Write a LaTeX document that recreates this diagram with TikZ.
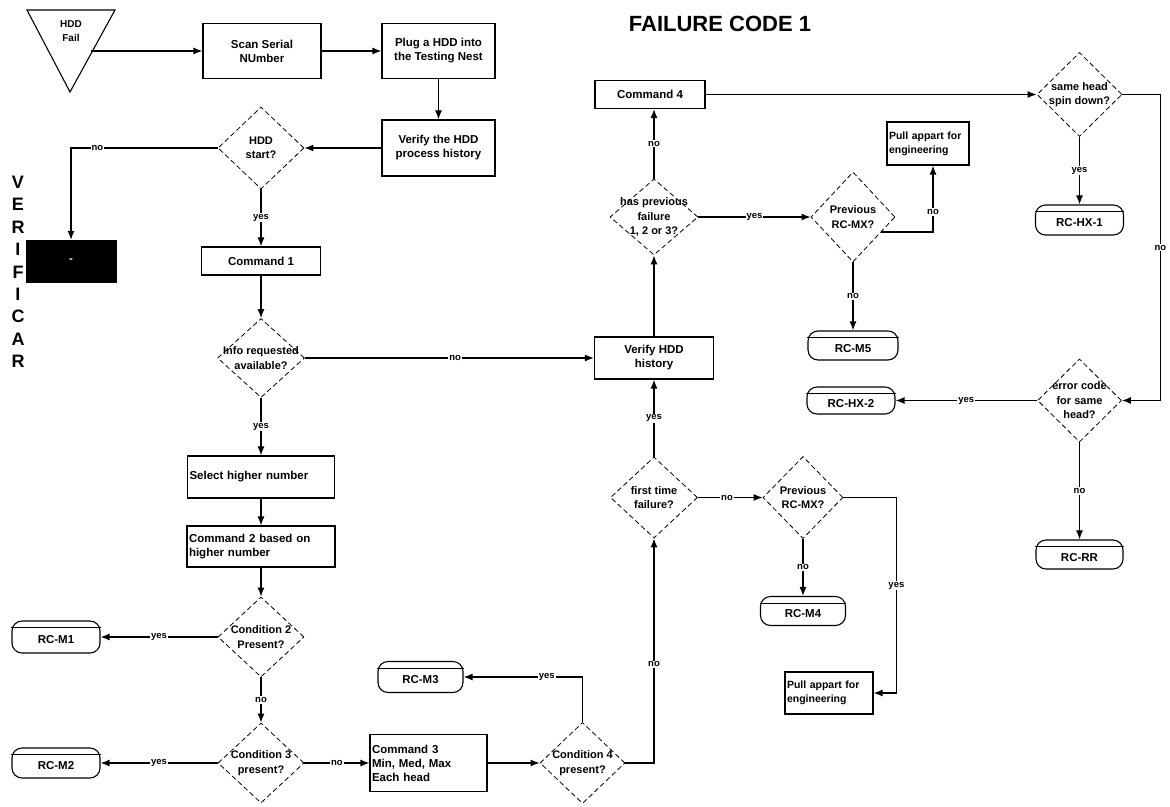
\documentclass[tikz,border=0pt]{standalone}
\usepackage{fontspec}
\setmainfont{Liberation Sans}
\usetikzlibrary{shapes.geometric,arrows.meta,calc}

\begin{document}
\begin{tikzpicture}[x=1pt,y=-1pt,
  font=\bfseries\fontsize{11.5}{14}\selectfont,
  box/.style={draw, line width=1.1pt, inner sep=2pt, align=center},
  lbox/.style={draw, line width=1.1pt, inner sep=2pt, align=left},
  dia/.style={diamond, draw, line width=0.8pt, dash pattern=on 5pt off 3pt, inner sep=0pt},
  dtext/.style={align=center, inner sep=0pt, font=\bfseries\fontsize{11}{14.5}\selectfont},
  term/.style={draw, line width=1.1pt, rounded corners=10pt, inner sep=0pt},
  arr/.style={line width=1.2pt, -{Latex[length=9pt,width=7pt]}},
  lab/.style={fill=white, inner sep=1pt, font=\bfseries\fontsize{9.5}{11}\selectfont},
  small/.style={font=\bfseries\fontsize{10.5}{14}\selectfont},
]
\useasboundingbox (0,0) rectangle (1170,806);

% title and side caption
\node[font=\bfseries\fontsize{22}{26}\selectfont] (title) at (720,24) {FAILURE CODE 1};
\node[align=center, font=\bfseries\fontsize{18}{22.4}\selectfont] (verif) at (18,272)
  {V\\E\\R\\I\\F\\I\\C\\A\\R};

% start symbol
\draw[line width=1.1pt] (27,10) -- (115,10) -- (70,92) -- cycle;
\node[align=center, font=\bfseries\fontsize{10}{14}\selectfont] (fail) at (71,31) {HDD\\Fail};
\coordinate (failout) at (91,51);

% process boxes
\node[box, minimum width=118pt, minimum height=55pt] (scan) at (262,51) {Scan Serial\\NUmber};
\node[box, minimum width=113pt, minimum height=55pt] (plug) at (438.5,51) {Plug a HDD into\\the Testing Nest};
\node[box, minimum width=113pt, minimum height=56pt] (verify1) at (438.5,148) {Verify the HDD\\process history};
\node[box, minimum width=119pt, minimum height=28pt] (cmd1) at (261,261) {Command 1};
\node[box, minimum width=119pt, minimum height=42pt] (verifyh) at (654,358) {Verify HDD\\history};
\node[box, minimum width=110pt, minimum height=28pt] (cmd4) at (650,94.5) {Command 4};
\node[lbox, small, text width=78pt, minimum height=43pt] (pull1) at (928,143.5) {Pull appart for\\engineering};
\node[lbox, text width=143pt, minimum height=42pt] (select) at (261,477) {Select higher number};
\node[lbox, text width=144pt, minimum height=41pt] (cmd2) at (261,546.5) {Command 2 based on\\higher number};
\node[lbox, text width=113pt, minimum height=57pt] (cmd3) at (428.5,763) {Command 3\\Min, Med, Max\\Each head};
\node[lbox, small, text width=84pt, minimum height=42pt] (pull2) at (829,693) {Pull appart for\\engineering};
\node[draw, fill=black, text=white, minimum width=90pt, minimum height=42pt] (blk) at (71,261) {-};

% decisions
\node[dia, minimum width=86pt, minimum height=82pt, label={[dtext]center:{HDD\\start?}}] (start) at (261,148) {};
\node[dia, minimum width=87pt, minimum height=79pt, label={[dtext]center:{Info requested\\available?}}] (info) at (261,358) {};
\node[dia, minimum width=88pt, minimum height=76pt, label={[dtext]center:{has previous\\failure\\1, 2 or 3?}}] (hasprev) at (654,217) {};
\node[dia, minimum width=84pt, minimum height=90pt, label={[dtext]center:{Previous\\RC-MX?}}] (prev1) at (853,217) {};
\node[dia, minimum width=85pt, minimum height=84pt, label={[dtext]center:{same head\\spin down?}}] (same) at (1079.5,94.5) {};
\node[dia, minimum width=84pt, minimum height=83pt, label={[dtext]center:{error code\\for same\\head?}}] (err) at (1079.5,400.5) {};
\node[dia, minimum width=86pt, minimum height=80pt, label={[dtext]center:{Condition 2\\Present?}}] (cond2) at (261,637) {};
\node[dia, minimum width=86pt, minimum height=80pt, label={[dtext]center:{Condition 3\\present?}}] (cond3) at (261,763) {};
\node[dia, minimum width=85pt, minimum height=81pt, label={[dtext]center:{Condition 4\\present?}}] (cond4) at (582.5,763) {};
\node[dia, minimum width=87pt, minimum height=81pt, label={[dtext]center:{first time\\failure?}}] (first) at (654,497.5) {};
\node[dia, minimum width=80pt, minimum height=82pt, label={[dtext]center:{Previous\\RC-MX?}}] (prev2) at (803,497.5) {};

% result codes
\node[term, minimum width=88pt, minimum height=32pt, label={[yshift=-3pt]center:RC-M1}] (rcm1) at (56,637) {};
\node[term, minimum width=88pt, minimum height=30pt, label={[yshift=-3pt]center:RC-M2}] (rcm2) at (56,763) {};
\node[term, minimum width=85pt, minimum height=31pt, label={[yshift=-3pt]center:RC-M3}] (rcm3) at (420.5,677) {};
\node[term, minimum width=85pt, minimum height=29pt, label={[yshift=-3pt]center:RC-M4}] (rcm4) at (803,611) {};
\node[term, minimum width=90pt, minimum height=29pt, label={[yshift=-3pt]center:RC-M5}] (rcm5) at (853,345.5) {};
\node[term, minimum width=88pt, minimum height=30pt, label={[yshift=-3pt]center:RC-HX-1}] (rchx1) at (1079.5,220) {};
\node[term, minimum width=88pt, minimum height=27pt, label={[yshift=-3pt]center:RC-HX-2}] (rchx2) at (851,400.5) {};
\node[term, minimum width=87pt, minimum height=29pt, label={[yshift=-3pt]center:RC-RR}] (rcrr) at (1079.5,554.5) {};
\foreach \n in {rcm1,rcm2,rcm3,rcm4,rcm5,rchx1,rchx2,rcrr}
  \draw[line width=0.9pt] ([yshift=-7pt]\n.north west) -- ([yshift=-7pt]\n.north east);

% connectors
\draw[arr] (failout) -- (failout -| scan.west);
\draw[arr] (scan.east) -- (plug.west);
\draw[arr] (plug.south) -- (verify1.north);
\draw[arr] (verify1.west) -- (start.east);
\draw[arr] (start.west) -| node[lab,pos=0.41]{no} (blk.north);
\draw[arr] (start.south) -- node[lab]{yes} (cmd1.north);
\draw[arr] (cmd1.south) -- (info.north);
\draw[arr] (info.east) -- node[lab,pos=0.52]{no} (verifyh.west);
\draw[arr] (info.south) -- node[lab]{yes} (select.north);
\draw[arr] (select.south) -- (cmd2.north);
\draw[arr] (cmd2.south) -- (cond2.north);
\draw[arr] (cond2.west) -- node[lab]{yes} (rcm1.east);
\draw[arr] (cond2.south) -- node[lab]{no} (cond3.north);
\draw[arr] (cond3.west) -- node[lab]{yes} (rcm2.east);
\draw[arr] (cond3.east) -- node[lab]{no} (cmd3.west);
\draw[arr] (cmd3.east) -- (cond4.west);
\draw[arr] (cond4.north) |- node[lab,pos=0.65]{yes} (rcm3.east);
\draw[arr] (cond4.east) -| node[lab,pos=0.72]{no} (first.south);
\draw[arr] (first.north) -- node[lab]{yes} (verifyh.south);
\draw[arr] (verifyh.north) -- (hasprev.south);
\draw[arr] (hasprev.north) -- node[lab]{no} (hasprev.north |- cmd4.south);
\draw[arr] (hasprev.east) -- node[lab]{yes} (prev1.west);
\draw[arr] ($(prev1.east)!0.33!(prev1.south)$) -| node[lab,pos=0.65]{no} ([xshift=5pt]pull1.south);
\draw[arr] (prev1.south) -- node[lab]{no} (rcm5.north);
\draw[arr] (cmd4.east) -- (same.west);
\draw[arr] (same.east) -- ++(38,0) |- node[lab,pos=0.25]{no} (err.east);
\draw[arr] (same.south) -- node[lab]{yes} (rchx1.north);
\draw[arr] (err.west) -- node[lab]{yes} (rchx2.east);
\draw[arr] (err.south) -- node[lab]{no} (rcrr.north);
\draw[arr] (first.east) -- node[lab,pos=0.45]{no} (prev2.west);
\draw[arr] (prev2.south) -- node[lab]{no} (rcm4.north);
\draw[arr] (prev2.east) -- ++(53,0) |- node[lab,pos=0.225]{yes} (pull2.east);
\end{tikzpicture}
\end{document}
